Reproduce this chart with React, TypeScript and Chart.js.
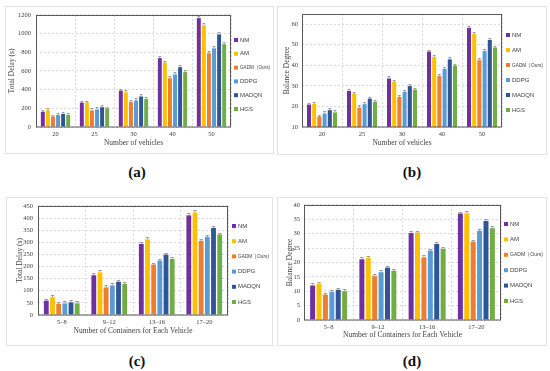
import React, { useEffect, useRef } from "react";
import { Chart, registerables } from "chart.js";
Chart.register(...registerables);

const seriesNames = ["NM", "AM", "GADM（Ours)", "DDPG", "MADQN", "HGS"];
const seriesColors = ["#7030A0", "#FFC000", "#ED7D31", "#5B9BD5", "#2F5597", "#70AD47"];

const vehicleCategories = ["20", "25", "30", "40", "50"];
const containerCategories = ["5–8", "9–12", "13–16", "17–20"];

// (a) Total delay vs number of vehicles
const delayVehNM = [163, 261, 390, 737, 1165];
const delayVehAM = [181, 262, 372, 689, 1088];
const delayVehGADM = [112, 177, 268, 522, 790];
const delayVehDDPG = [128, 188, 285, 563, 842];
const delayVehMADQN = [139, 212, 327, 640, 991];
const delayVehHGS = [129, 198, 299, 588, 887];

// (b) Balance degree vs number of vehicles
const balVehNM = [20.9, 27.5, 33.6, 46.7, 58.2];
const balVehAM = [21.2, 26.2, 32.0, 44.0, 55.2];
const balVehGADM = [15.1, 19.5, 24.6, 34.8, 42.5];
const balVehDDPG = [16.6, 21.1, 27.1, 38.2, 46.9];
const balVehMADQN = [18.2, 23.8, 29.9, 42.9, 52.3];
const balVehHGS = [17.1, 22.2, 28.1, 39.8, 48.6];

// (c) Total delay vs containers per vehicle
const delayConNM = [59, 164, 293, 411];
const delayConAM = [73, 176, 312, 423];
const delayConGADM = [46, 114, 208, 306];
const delayConDDPG = [48, 122, 224, 322];
const delayConMADQN = [52, 137, 249, 359];
const delayConHGS = [48, 128, 231, 332];

// (d) Balance degree vs containers per vehicle
const balConNM = [12.0, 21.1, 30.2, 37.0];
const balConAM = [12.5, 21.5, 30.4, 37.1];
const balConGADM = [8.8, 15.2, 21.8, 27.2];
const balConDDPG = [9.7, 16.6, 24.1, 31.0];
const balConMADQN = [10.5, 18.2, 26.4, 34.4];
const balConHGS = [10.0, 17.1, 24.7, 31.9];

const SERIF = "'Liberation Serif', 'Times New Roman', serif";
const SANS = "'Liberation Sans', Arial, sans-serif";

type PanelProps = {
  box: { x: number; y: number; w: number; h: number };
  plot: { l: number; t: number; r: number; b: number };
  legend: { x: number; y0: number; dy: number };
  xTitleY: number;
  yTitleX: number;
  xTitle: string;
  yTitle: string;
  labels: string[];
  series: number[][];
  yMin: number;
  yMax: number;
  yStep: number;
  caption: string;
  captionX: number;
  captionY: number;
  xTickPad: number;
  yTickPad: number;
};

const TITLE_SIZE = 7.5;
const TICK_SIZE = 6.5;

function Panel(p: PanelProps) {
  const ref = useRef<HTMLCanvasElement | null>(null);
  useEffect(() => {
    if (!ref.current) return;
    const { box, plot, legend } = p;
    const lh = TITLE_SIZE * 1.2;
    const plotL = plot.l - box.x;
    const plotT = plot.t - box.y;
    const plotR = plot.r - box.x;
    const plotB = plot.b - box.y;

    const framePlugin = {
      id: "frame",
      afterDatasetsDraw(chart: any) {
        const { ctx, chartArea: a } = chart;
        ctx.save();
        // small error caps
        ctx.strokeStyle = "rgba(150,150,150,0.9)";
        ctx.lineWidth = 1;
        chart.data.datasets.forEach((_: any, i: number) => {
          const meta = chart.getDatasetMeta(i);
          meta.data.forEach((bar: any) => {
            const w = bar.width * 0.7;
            ctx.beginPath();
            ctx.moveTo(bar.x - w / 2, Math.round(bar.y) - 1.5);
            ctx.lineTo(bar.x + w / 2, Math.round(bar.y) - 1.5);
            ctx.moveTo(bar.x, Math.round(bar.y) - 1.5);
            ctx.lineTo(bar.x, Math.round(bar.y));
            ctx.stroke();
          });
        });
        ctx.strokeStyle = "#595959";
        ctx.lineWidth = 1;
        ctx.strokeRect(Math.round(a.left) + 0.5, Math.round(a.top) + 0.5, Math.round(a.right - a.left) - 1, Math.round(a.bottom - a.top) - 0.5);
        // legend
        ctx.font = `6px ${SANS}`;
        ctx.textBaseline = "middle";
        ctx.textAlign = "left";
        chart.data.datasets.forEach((ds: any, i: number) => {
          const y = legend.y0 - box.y + i * legend.dy;
          const x = legend.x - box.x;
          ctx.fillStyle = ds.backgroundColor;
          ctx.fillRect(x, y - 2, 4, 4);
          ctx.fillStyle = "#404040";
          ctx.fillText(ds.label, x + 6, y, box.w - (x + 6) - 4);
        });
        ctx.restore();
      },
    };

    const chart = new Chart(ref.current, {
      type: "bar",
      data: {
        labels: p.labels,
        datasets: p.series.map((d, i) => ({
          label: seriesNames[i],
          data: d,
          backgroundColor: seriesColors[i],
          borderWidth: 0,
          categoryPercentage: 0.78,
          barPercentage: 0.78,
        })),
      },
      options: {
        responsive: false,
        animation: false,
        layout: { padding: { left: 0, top: plotT, right: box.w - plotR, bottom: 0 } },
        plugins: { legend: { display: false }, tooltip: { enabled: false } },
        scales: {
          x: {
            grid: { color: "#d9d9d9", drawTicks: false, offset: true },
            border: { display: false, dash: [2, 2] },
            ticks: { font: { size: TICK_SIZE, family: SERIF }, color: "#404040", padding: p.xTickPad },
            title: {
              display: true,
              text: p.xTitle,
              font: { size: TITLE_SIZE, family: SERIF },
              color: "#404040",
              padding: { top: 0, bottom: box.y + box.h - p.xTitleY - lh / 2 },
            },
            afterFit(scale: any) {
              scale.height = box.h - plotB;
            },
          },
          y: {
            min: p.yMin,
            max: p.yMax,
            grid: { color: "#d9d9d9", drawTicks: false },
            border: { display: false, dash: [2, 2] },
            ticks: {
              stepSize: p.yStep,
              includeBounds: false,
              font: { size: TICK_SIZE, family: SERIF },
              color: "#404040",
              padding: p.yTickPad,
              callback: (v: any) => String(v),
            },
            title: {
              display: true,
              text: p.yTitle,
              font: { size: TITLE_SIZE, family: SERIF },
              color: "#404040",
              padding: { top: p.yTitleX - box.x - lh / 2, bottom: 0 },
            },
            afterFit(scale: any) {
              scale.width = plotL;
            },
          },
        },
      },
      plugins: [framePlugin],
    } as any);
    return () => chart.destroy();
  }, []);

  const { box } = p;
  return (
    <>
      <div
        style={{
          position: "absolute",
          left: box.x,
          top: box.y,
          width: box.w,
          height: box.h,
          border: "1px solid #e3e3e3",
          boxSizing: "border-box",
        }}
      />
      <canvas
        ref={ref}
        width={box.w}
        height={box.h}
        style={{ position: "absolute", left: box.x, top: box.y, width: box.w, height: box.h }}
      />
      <div
        style={{
          position: "absolute",
          left: p.captionX - 30,
          width: 60,
          top: p.captionY - 9,
          height: 18,
          lineHeight: "18px",
          textAlign: "center",
          fontFamily: SERIF,
          fontWeight: "bold",
          fontSize: 15,
          color: "#111",
        }}
      >
        {p.caption}
      </div>
    </>
  );
}

export default function App() {
  return (
    <div style={{ position: "absolute", left: 0, top: 0, width: 550, height: 371, background: "#fff", overflow: "hidden" }}>
      <Panel
        box={{ x: 5, y: 6, w: 269, h: 148 }}
        plot={{ l: 36, t: 12, r: 231, b: 127 }}
        legend={{ x: 234, y0: 40, dy: 13.8 }}
        xTitleY={143}
        yTitleX={12}
        xTitle="Number of vehicles"
        yTitle="Total Delay (s)"
        labels={vehicleCategories}
        series={[delayVehNM, delayVehAM, delayVehGADM, delayVehDDPG, delayVehMADQN, delayVehHGS]}
        yMin={0}
        yMax={1200}
        yStep={200}
        caption="(a)"
        captionX={137}
        captionY={172}
        xTickPad={3}
        yTickPad={5}
      />
      <Panel
        box={{ x: 277, y: 6, w: 270, h: 149 }}
        plot={{ l: 302, t: 13, r: 502, b: 127 }}
        legend={{ x: 506, y0: 35, dy: 15 }}
        xTitleY={143}
        yTitleX={287}
        xTitle="Number of vehicles"
        yTitle="Balance Degree"
        labels={vehicleCategories}
        series={[balVehNM, balVehAM, balVehGADM, balVehDDPG, balVehMADQN, balVehHGS]}
        yMin={10}
        yMax={65}
        yStep={10}
        caption="(b)"
        captionX={412}
        captionY={172}
        xTickPad={3}
        yTickPad={4}
      />
      <Panel
        box={{ x: 6, y: 197, w: 267, h: 149 }}
        plot={{ l: 38, t: 203, r: 228, b: 315 }}
        legend={{ x: 232, y0: 226, dy: 15.2 }}
        xTitleY={331}
        yTitleX={20}
        xTitle="Number of Containers for Each Vehicle"
        yTitle="Total Delay (s)"
        labels={containerCategories}
        series={[delayConNM, delayConAM, delayConGADM, delayConDDPG, delayConMADQN, delayConHGS]}
        yMin={0}
        yMax={450}
        yStep={50}
        caption="(c)"
        captionX={137}
        captionY={361}
        xTickPad={3}
        yTickPad={5}
      />
      <Panel
        box={{ x: 277, y: 197, w: 270, h: 149 }}
        plot={{ l: 304, t: 203, r: 501, b: 320 }}
        legend={{ x: 504, y0: 224, dy: 15.4 }}
        xTitleY={335}
        yTitleX={290}
        xTitle="Number of Containers for Each Vehicle"
        yTitle="Balance Degree"
        labels={containerCategories}
        series={[balConNM, balConAM, balConGADM, balConDDPG, balConMADQN, balConHGS]}
        yMin={0}
        yMax={40}
        yStep={5}
        caption="(d)"
        captionX={412}
        captionY={361}
        xTickPad={3}
        yTickPad={4}
      />
    </div>
  );
}
